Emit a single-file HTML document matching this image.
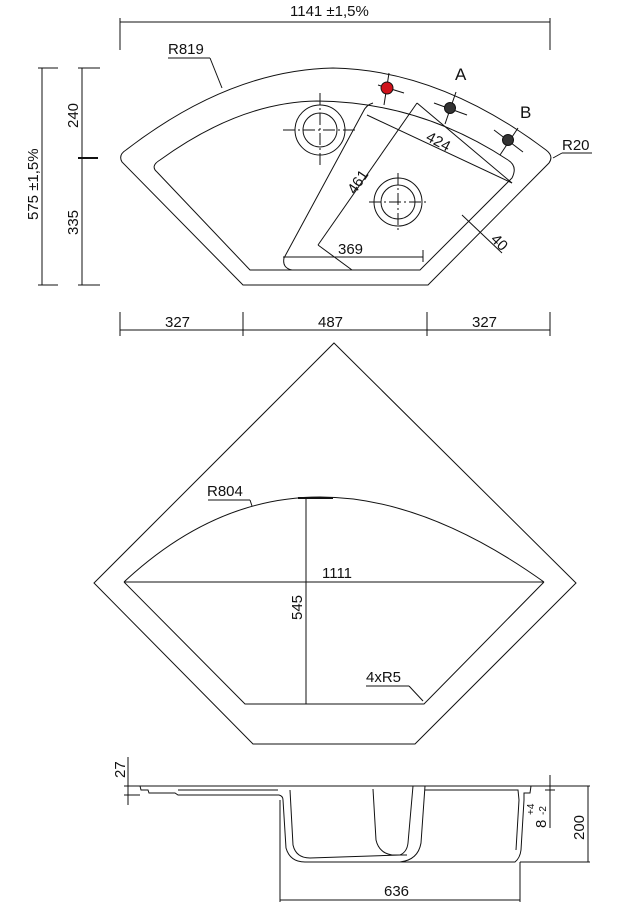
<!DOCTYPE html>
<html><head><meta charset="utf-8"><style>
body{margin:0;background:#fff;width:620px;height:908px;overflow:hidden}
svg{display:block}
text{font-family:"Liberation Sans",sans-serif;font-size:15px;fill:#111}
</style></head><body>
<svg width="620" height="908" viewBox="0 0 620 908" xmlns="http://www.w3.org/2000/svg">
<g fill="none" stroke="#111" stroke-width="1">
<!-- top dims -->
<line x1="120" y1="22" x2="550" y2="22"/>
<line x1="120" y1="18" x2="120" y2="50"/>
<line x1="550" y1="18" x2="550" y2="50"/>
<line x1="42" y1="68" x2="42" y2="285"/>
<line x1="38" y1="68" x2="58" y2="68"/>
<line x1="38" y1="285" x2="58" y2="285"/>
<line x1="82" y1="68" x2="82" y2="285"/>
<line x1="78" y1="68" x2="100" y2="68"/>
<line x1="78" y1="158" x2="98" y2="158" stroke-width="2"/>
<line x1="78" y1="285" x2="100" y2="285"/>
<line x1="120" y1="330" x2="550" y2="330"/>
<line x1="120" y1="312" x2="120" y2="336"/>
<line x1="243" y1="312" x2="243" y2="336"/>
<line x1="427" y1="312" x2="427" y2="336"/>
<line x1="550" y1="312" x2="550" y2="336"/>
<!-- top view outer -->
<path d="M122,162 Q118,155 126,150 Q230,70 333,68 Q440,70 546,150 Q554,156 549,163 L428,285 L243,285 Z"/>
<!-- inner bowl -->
<path d="M157,172 Q150,166 160,160 Q240,102 317,101 Q420,102 508,160 Q518,166 512,178 L420,270 L250,270 Z"/>
<!-- small bowl -->
<path d="M373,103 Q366,105 363,112 L284,258 Q282,268 292,270"/>
<line x1="283" y1="257" x2="423" y2="257"/>
<line x1="423" y1="250" x2="423" y2="262"/>
<!-- circles -->
<circle cx="320" cy="130" r="25"/><circle cx="320" cy="130" r="17"/>
<circle cx="398" cy="202" r="24"/><circle cx="398" cy="202" r="17"/>
<g stroke-dasharray="12,3,2,3">
<line x1="283" y1="130" x2="356" y2="130"/><line x1="320" y1="93" x2="320" y2="167"/>
<line x1="369" y1="202" x2="428" y2="202"/><line x1="398" y1="173" x2="398" y2="231"/>
</g>
<!-- dims inside -->
<line x1="417" y1="103" x2="318" y2="245"/>
<line x1="318" y1="245" x2="352" y2="270"/>
<line x1="417" y1="103" x2="512" y2="183"/>
<line x1="367" y1="115" x2="512" y2="183"/>
<line x1="462" y1="215" x2="502" y2="253"/>
<!-- R labels -->
<line x1="168" y1="58" x2="210" y2="58"/><line x1="210" y1="58" x2="222" y2="88"/>
<line x1="562" y1="153" x2="592" y2="153"/><line x1="562" y1="153" x2="553" y2="158"/>
<!-- dot crosses -->
<line x1="378" y1="85" x2="404" y2="93"/><line x1="389" y1="73" x2="384" y2="105"/>
<line x1="434" y1="103" x2="467" y2="115"/><line x1="456" y1="92" x2="445" y2="124"/>
<line x1="494" y1="130" x2="523" y2="152"/><line x1="518" y1="128" x2="500" y2="155"/>
</g>
<circle cx="387" cy="88" r="6" fill="#d0121b" stroke="#111"/>
<circle cx="450" cy="108" r="5.5" fill="#333" stroke="#111"/>
<circle cx="508" cy="140" r="5.5" fill="#333" stroke="#111"/>
<text x="290" y="16">1141 ±1,5%</text>
<text x="168" y="54">R819</text>
<text x="562" y="150">R20</text>
<text x="455" y="80" style="font-size:17px">A</text>
<text x="520" y="118" style="font-size:17px">B</text>
<text x="338" y="254">369</text>
<text transform="translate(425,140) rotate(28)">424</text>
<text transform="translate(355,195) rotate(-56)">461</text>
<text transform="translate(490,240) rotate(45)">40</text>
<text transform="translate(38,220) rotate(-90)">575 ±1,5%</text>
<text transform="translate(78,128) rotate(-90)">240</text>
<text transform="translate(78,235) rotate(-90)">335</text>
<text x="165" y="327">327</text>
<text x="318" y="327">487</text>
<text x="472" y="327">327</text>
<!-- middle -->
<g fill="none" stroke="#111" stroke-width="1">
<path d="M334,343 L576,583 L415,744 L253,744 L94,583 Z"/>
<path d="M124,582 Q306,412 544,582"/>
<path d="M124,582 L245,704 L424,704 L544,582"/>
<line x1="124" y1="582" x2="544" y2="582"/>
<line x1="306" y1="498" x2="306" y2="704"/>
<line x1="298" y1="498" x2="333" y2="498" stroke-width="2"/>
<line x1="208" y1="500" x2="250" y2="500"/><line x1="250" y1="500" x2="252" y2="506"/>
<line x1="366" y1="686" x2="409" y2="686"/><line x1="409" y1="686" x2="423" y2="701"/>
</g>
<text x="207" y="496">R804</text>
<text x="322" y="578">1111</text>
<text transform="translate(302,620) rotate(-90)">545</text>
<text x="366" y="682">4xR5</text>
<!-- section -->
<g fill="none" stroke="#111" stroke-width="1">
<path d="M140,786 L590,786"/>
<path d="M140,786 L141,790 L148,790 L149,793 L175,793 L178,795 L279,795 Q283,796 283,800 L286,848 Q290,862 305,862 L515,862 Q520,858 521,850 L524,800 L524,793 L530,793 L531,786"/>
<path d="M178,790 L278,790"/>
<path d="M290,790 L293,845 Q296,858 310,858 L400,855 Q407,852 408,843 L413,786"/>
<path d="M373,789 L376,840 Q379,853 392,855 L407,855"/>
<path d="M425,786 L421,843 Q418,860 400,862"/>
<path d="M425,790 L518,790 L519,800 L516,850"/>
<line x1="128" y1="786" x2="128" y2="805"/>
<line x1="124" y1="786" x2="140" y2="786"/>
<line x1="124" y1="795" x2="140" y2="795"/>
<line x1="128" y1="757" x2="128" y2="786"/>
<line x1="550" y1="775" x2="550" y2="828"/>
<line x1="545" y1="790" x2="555" y2="790"/>
<line x1="520" y1="862" x2="590" y2="862"/>
<line x1="588" y1="786" x2="588" y2="862"/>
<line x1="280" y1="800" x2="280" y2="902"/>
<line x1="520" y1="862" x2="520" y2="902"/>
<line x1="280" y1="900" x2="520" y2="900"/>
</g>
<text transform="translate(125,778) rotate(-90)">27</text>
<text transform="translate(584,840) rotate(-90)">200</text>
<text transform="translate(546,828) rotate(-90)">8</text>
<text transform="translate(534,815) rotate(-90)" style="font-size:10px">+4</text>
<text transform="translate(546,815) rotate(-90)" style="font-size:10px">-2</text>
<text x="384" y="896">636</text>
</svg>
</body></html>
